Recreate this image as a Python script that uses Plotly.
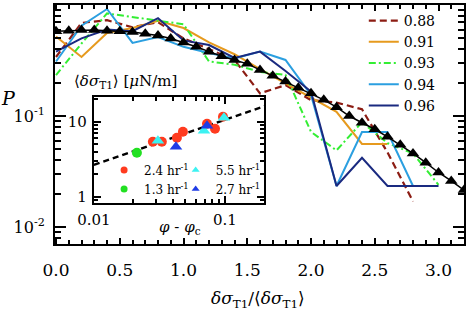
import plotly.graph_objects as go

# ---------------- data ----------------
bins = [0.0, 0.2, 0.4, 0.6, 0.8, 1.0, 1.2, 1.4, 1.6, 1.8, 2.0, 2.2, 2.4, 2.6, 2.8, 3.0]
series_names = ["0.88", "0.91", "0.93", "0.94", "0.96"]
p_088 = [0.34, 0.69, 0.73, 0.63, 0.70, 0.50, 0.40, 0.32, 0.16, 0.19, 0.139, 0.132, 0.115, 0.047, 0.017, None]
p_091 = [0.52, 0.34, 0.56, 0.62, 0.72, 0.62, 0.46, 0.36, 0.265, 0.198, 0.148, 0.109, 0.056, 0.056, None, None]
p_093 = [0.234, 0.45, 0.84, 0.78, 0.73, 0.67, 0.31, 0.29, 0.25, 0.235, 0.072, 0.049, 0.088, 0.057, 0.046, 0.024]
p_094 = [0.31, 0.65, 0.92, 0.455, 0.515, 0.42, 0.37, 0.33, 0.38, 0.32, 0.155, 0.0234, 0.0718, 0.0718, 0.0234, None]
p_096 = [0.38, 0.50, 0.60, 0.58, 0.76, 0.48, 0.436, 0.333, 0.38, 0.254, 0.166, 0.0234, 0.042, 0.0234, 0.0234, 0.0234]

fit_x = [0.0, 0.1, 0.2, 0.3, 0.4, 0.5, 0.6, 0.7, 0.8, 0.9, 1.0, 1.1, 1.2, 1.3, 1.4, 1.5,
         1.6, 1.7, 1.8, 1.9, 2.0, 2.1, 2.2, 2.3, 2.4, 2.5, 2.6, 2.7, 2.8, 2.9, 3.0, 3.1, 3.2]
fit_p = [0.58, 0.585, 0.595, 0.595, 0.585, 0.58, 0.57, 0.55, 0.53, 0.50, 0.46, 0.42, 0.38, 0.345,
         0.32, 0.295, 0.26, 0.23, 0.205, 0.18, 0.16, 0.14, 0.12, 0.10, 0.087, 0.076, 0.065, 0.055,
         0.046, 0.038, 0.031, 0.026, 0.0215]

# inset: <dsigma_T1> vs phi - phi_c
rate_labels = ["2.4 hr<sup>-1</sup>", "1.3 hr<sup>-1</sup>", "5.5 hr<sup>-1</sup>", "2.7 hr<sup>-1</sup>"]
r24_x = [0.0282, 0.033, 0.043, 0.0478, 0.073, 0.084, 0.0966]
r24_y = [5.41, 5.41, 6.12, 7.36, 9.4, 8.07, 11.7]
r13_x = [0.0213]
r13_y = [3.86]
r55_x = [0.0308, 0.0692, 0.0983]
r55_y = [5.58, 7.59, 11.3]
r27_x = [0.0423, 0.073]
r27_y = [4.64, 8.85]
powerlaw_x = [0.01, 0.2]
powerlaw_amp = 42.3
powerlaw_exp = 0.6

main_yticks = [1, 0.1, 0.01]
main_yticktext = ["10<sup>0</sup>", "10<sup>-1</sup>", "10<sup>-2</sup>"]
inset_xticks = [0.01, 0.1]
inset_xticktext = ["0.01", "0.1"]
inset_yticks = [1, 10]
inset_yticktext = ["1", "10"]

# ---------------- style ----------------
FONT = "DejaVu Serif"
colors = ["#8c1c13", "#e69a1e", "#33ee33", "#2b9fe0", "#1a2a80"]
dashes = ["7px,4px", "solid", "7px,3px,2px,3px", "solid", "solid"]
widths = [2.2, 2, 2, 2, 2]

fig = go.Figure()

for name, ys, c, d, w in zip(series_names, [p_088, p_091, p_093, p_094, p_096], colors, dashes, widths):
    fig.add_trace(go.Scatter(x=bins, y=ys, mode="lines", name=name,
                             line=dict(color=c, width=w, dash=d), connectgaps=False))

fig.add_trace(go.Scatter(x=fit_x, y=fit_p, mode="lines+markers", showlegend=False,
                         line=dict(color="black", width=1.5),
                         marker=dict(symbol="triangle-up", size=11, color="black")))

# inset
fit_y = [powerlaw_amp * x ** powerlaw_exp for x in powerlaw_x]
fig.add_trace(go.Scatter(x=powerlaw_x, y=fit_y, xaxis="x2", yaxis="y2", mode="lines",
                         showlegend=False, line=dict(color="black", width=2.5, dash="6px,4px")))
inset_sets = [
    (r24_x, r24_y, "circle", "#ff3b1f", 10),
    (r13_x, r13_y, "circle", "#22e022", 10),
    (r55_x, r55_y, "triangle-up", "#3cf2f2", 11),
    (r27_x, r27_y, "triangle-up", "#1f3ce6", 11),
]
for xs, ys, sym, c, s in inset_sets:
    fig.add_trace(go.Scatter(x=xs, y=ys, xaxis="x2", yaxis="y2", mode="markers", showlegend=False,
                             marker=dict(symbol=sym, size=s, color=c)))
# legend entries for inset
leg_ids = ["legend2", "legend2", "legend3", "legend3"]
for (xs, ys, sym, c, s), lab, lg in zip(inset_sets, rate_labels, leg_ids):
    fig.add_trace(go.Scatter(x=[None], y=[None], xaxis="x2", yaxis="y2", mode="markers", name=lab,
                             legend=lg, marker=dict(symbol=sym, size=7, color=c)))

axis_common = dict(showline=True, linecolor="black", linewidth=2, mirror="allticks",
                   ticks="inside", tickcolor="black", tickwidth=1.5, showgrid=False, zeroline=False,
                   automargin=False)

fig.update_layout(
    width=470, height=314,
    margin=dict(l=55, r=6, t=5, b=70, autoexpand=False),
    paper_bgcolor="white", plot_bgcolor="white",
    font=dict(family=FONT, size=17, color="black"),
    xaxis=dict(range=[-0.008, 3.2], dtick=0.5, tick0=0, tickformat=".1f",
               ticklen=6, ticklabelstandoff=10, tickfont=dict(family=FONT, size=17),
               minor=dict(dtick=0.1, ticks="inside", ticklen=4, tickcolor="black"),
               **axis_common),
    yaxis=dict(type="log", range=[-2.153, 0], tickvals=main_yticks, ticktext=main_yticktext,
               ticklen=11, ticklabelstandoff=5, tickfont=dict(family=FONT, size=16),
               minor=dict(ticks="inside", ticklen=6, tickcolor="black", dtick="D1"),
               **axis_common),
    xaxis2=dict(type="log", domain=[0.095, 0.511], anchor="y2", range=[-2, -0.702],
                tickvals=inset_xticks, ticktext=inset_xticktext, ticklen=7, ticklabelstandoff=2,
                tickfont=dict(family=FONT, size=15),
                minor=dict(ticks="inside", ticklen=4, tickcolor="black", dtick="D1"),
                **axis_common),
    yaxis2=dict(type="log", domain=[0.172, 0.615], anchor="x2", range=[-0.08, 1.33],
                tickvals=inset_yticks, ticktext=inset_yticktext, ticklen=7, ticklabelstandoff=2,
                tickfont=dict(family=FONT, size=15),
                minor=dict(ticks="inside", ticklen=4, tickcolor="black", dtick="D1"),
                **axis_common),
    legend=dict(x=0.755, y=1.0, xanchor="left", yanchor="top", bgcolor="rgba(0,0,0,0)",
                font=dict(family=FONT, size=14), tracegroupgap=0),
    legend2=dict(x=0.12, y=0.37, xanchor="left", yanchor="top", bgcolor="rgba(0,0,0,0)",
                 font=dict(family=FONT, size=12)),
    legend3=dict(x=0.295, y=0.37, xanchor="left", yanchor="top", bgcolor="rgba(0,0,0,0)",
                 font=dict(family=FONT, size=12)),
    showlegend=True,
)

ann = dict(xref="paper", yref="paper", showarrow=False, xanchor="center", yanchor="middle")
fig.add_annotation(text="<i>P</i>", x=-0.113, y=0.61, font=dict(family=FONT, size=19), **ann)
fig.add_annotation(text="<i>δσ</i><sub>T1</sub>/⟨<i>δσ</i><sub>T1</sub>⟩", x=0.496, y=-0.234,
                   font=dict(family=FONT, size=17), **ann)
fig.add_annotation(text="⟨<i>δσ</i><sub>T1</sub>⟩ [<i>μ</i>N/m]", x=0.042, y=0.678,
                   font=dict(family=FONT, size=15), **{**ann, "xanchor": "left"})
fig.add_annotation(text="<i>φ</i> - <i>φ</i><sub>c</sub>", x=0.306, y=0.071,
                   font=dict(family=FONT, size=15), **ann)

fig.write_html("out.html", config={"displayModeBar": False},
               post_script="document.body.style.margin='0px';")
